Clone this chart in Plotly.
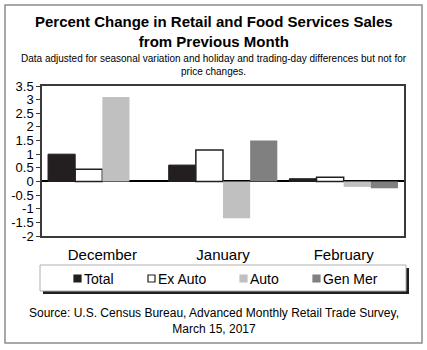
import plotly.graph_objects as go

months = ["December", "January", "February"]
series_names = ["Total", "Ex Auto", "Auto", "Gen Mer"]
total = [1.0, 0.6, 0.1]
ex_auto = [0.45, 1.15, 0.15]
auto = [3.1, -1.35, -0.2]
gen_mer = [0.0, 1.5, -0.25]
y_ticks = [3.5, 3, 2.5, 2, 1.5, 1, 0.5, 0, -0.5, -1, -1.5, -2]

FONT = "Liberation Sans, Arial, sans-serif"
fills = ["#231f20", "white", "#c0c0c0", "#808080"]
outlines = ["#231f20", "#231f20", "#c0c0c0", "#808080"]
widths = [1, 1.5, 0, 0]

fig = go.Figure()
for name, vals, fc, lc, lw in zip(series_names, [total, ex_auto, auto, gen_mer], fills, outlines, widths):
    fig.add_bar(x=months, y=vals, name=name,
                marker=dict(color=fc, line=dict(color=lc, width=lw)))

L, R, T, B = 42, 23, 86, 114
W, H = 427, 350
pw, ph = W - L - R, H - T - B

def px(x):
    return (x - L) / pw

def py(y):
    return (H - B - y) / ph

shapes = [
    dict(type="rect", xref="paper", yref="paper",
         x0=px(5), x1=px(422), y0=py(5), y1=py(343),
         line=dict(color="#8c8c8c", width=1.5), fillcolor="rgba(0,0,0,0)", layer="below"),
    dict(type="rect", xref="paper", yref="paper",
         x0=px(43), x1=px(409), y0=py(268), y1=py(294),
         line=dict(width=0), fillcolor="#231f20", layer="below"),
    dict(type="rect", xref="paper", yref="paper",
         x0=px(40), x1=px(406), y0=py(265), y1=py(291),
         line=dict(color="#b0b0b0", width=1), fillcolor="white", layer="below"),
]

annotations = [
    dict(text="<b>Percent Change in Retail and Food Services Sales<br>from Previous Month</b>",
         xref="paper", yref="paper", x=px(214), y=py(32), xanchor="center", yanchor="middle",
         showarrow=False, font=dict(size=15, family=FONT)),
    dict(text="Data adjusted for seasonal variation and holiday and trading-day differences but not for<br>price changes.",
         xref="paper", yref="paper", x=px(214), y=py(65), xanchor="center", yanchor="middle",
         showarrow=False, font=dict(size=10, family=FONT)),
    dict(text="Source: U.S. Census Bureau, Advanced Monthly Retail Trade Survey,<br>March 15, 2017",
         xref="paper", yref="paper", x=px(214), y=py(320.5), xanchor="center", yanchor="middle",
         showarrow=False, font=dict(size=12, family=FONT)),
]

# legend (key) drawn as swatches + labels
key_x = [74, 148, 240, 313]
for name, fc, lc, kx in zip(series_names, fills, outlines, key_x):
    shapes.append(dict(type="rect", xref="paper", yref="paper",
                       x0=px(kx), x1=px(kx + 7), y0=py(275), y1=py(282),
                       fillcolor=fc, line=dict(color=lc, width=1.2), layer="above"))
    annotations.append(dict(text=name, xref="paper", yref="paper", x=px(kx + 8), y=py(278.5),
                            xanchor="left", yanchor="middle", showarrow=False,
                            font=dict(size=14, family=FONT)))

fig.update_layout(
    width=W, height=H,
    margin=dict(l=L, r=R, t=T, b=B),
    paper_bgcolor="white", plot_bgcolor="white",
    barmode="group", bargap=0.1, bargroupgap=0,
    font=dict(family=FONT, color="black"),
    showlegend=False,
    shapes=shapes,
    annotations=annotations,
)

fig.update_xaxes(showgrid=False, showline=True, linecolor="#3a3a3a", linewidth=1.5, mirror=True,
                 ticks="", tickfont=dict(size=15, family=FONT), zeroline=False,
                 ticklabelstandoff=4)
fig.update_yaxes(range=[-2, 3.5], tickvals=y_ticks, ticktext=[f"{v:g}" for v in y_ticks],
                 showgrid=False, showline=True, linecolor="#3a3a3a", linewidth=1.5, mirror=True,
                 ticks="outside", ticklen=4, tickcolor="#3a3a3a", tickwidth=1.2,
                 tickfont=dict(size=13, family=FONT),
                 zeroline=True, zerolinecolor="black", zerolinewidth=2)

fig.write_html("out.html")
